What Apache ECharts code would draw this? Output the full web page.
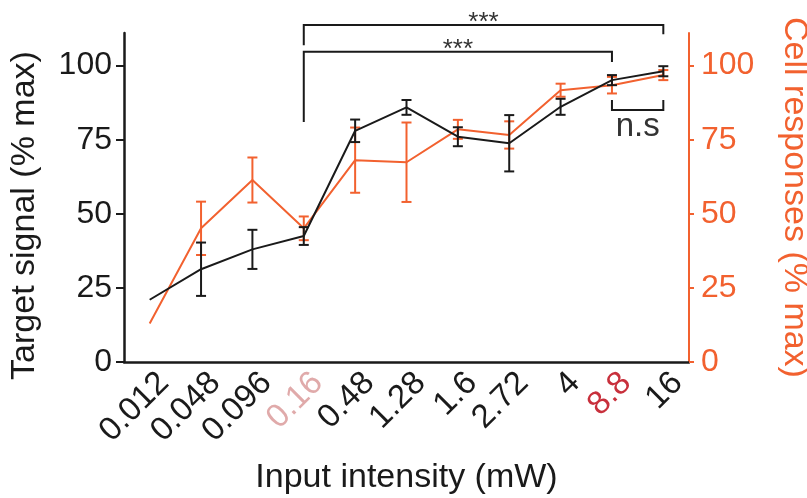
<!DOCTYPE html>
<html>
<head>
<meta charset="utf-8">
<title>Input intensity</title>
<script src="https://cdn.jsdelivr.net/npm/echarts@6/dist/echarts.min.js"></script>
<style>
  html, body { margin: 0; padding: 0; background: #fff; }
  #main { width: 807px; height: 498px; }
</style>
</head>
<body>
<div id="main"></div>
<script type="text/javascript">
// 数据
var intensities = ['0.012', '0.048', '0.096', '0.16', '0.48', '1.28', '1.6', '2.72', '4', '8.8', '16'];
var targetMean = [21, 31.3, 38, 42.5, 78, 85.9, 76, 73.8, 86.1, 95.1, 98.1];
var targetErr = [0, 9, 6.6, 3, 3.8, 2.5, 3.2, 9.5, 2.7, 1.7, 1.7];
var cellMean = [13, 45.1, 61.4, 45.1, 68.1, 67.4, 78.5, 76.6, 91.7, 93.4, 96.8];
var cellErr = [0, 9, 7.6, 4, 11, 13.4, 3.2, 4.6, 2.2, 2.8, 1.7];
var yTicks = [0, 25, 50, 75, 100];

var black = '#1a1a1a';
var orange = '#f2612f';

function errData(mean, err) {
	var out = [];
	for (var i = 0; i < mean.length; i++) {
		if (err[i] > 0) out.push([i, mean[i] - err[i], mean[i] + err[i]]);
	}
	return out;
}

// 误差线
function errRender(color) {
	return function(params, api) {
		var x = api.value(0);
		var lo = api.coord([x, api.value(1)]);
		var hi = api.coord([x, api.value(2)]);
		var w = 5;
		var style = { stroke: color, lineWidth: 2 };
		return {
			type: 'group',
			children: [
				{ type: 'line', shape: { x1: lo[0], y1: lo[1], x2: hi[0], y2: hi[1] }, style: style },
				{ type: 'line', shape: { x1: lo[0] - w, y1: lo[1], x2: lo[0] + w, y2: lo[1] }, style: style },
				{ type: 'line', shape: { x1: hi[0] - w, y1: hi[1], x2: hi[0] + w, y2: hi[1] }, style: style }
			]
		};
	};
}

var myChart = echarts.init(document.getElementById('main'));
var option = {
	animation: false,
	grid: { left: 124, right: 118, top: 33, bottom: 136, outerBoundsMode: 'none', containLabel: false },
	textStyle: { fontFamily: 'Liberation Sans, Arial, sans-serif' },
	xAxis: {
		type: 'category',
		data: intensities,
		boundaryGap: true,
		name: 'Input intensity (mW)',
		nameLocation: 'middle',
		nameGap: 99,
		nameTextStyle: { fontSize: 34, color: black },
		axisLine: { lineStyle: { color: black, width: 2.5 } },
		axisTick: { alignWithLabel: true, length: 6, lineStyle: { color: black, width: 2 } },
		axisLabel: {
			rotate: 45,
			fontSize: 33,
			margin: 30,
			padding: [0, -20, 0, 0],
			interval: 0,
			color: function(value) {
				if (value === '0.16') return '#e0aaaa';
				if (value === '8.8') return '#c8303c';
				return black;
			}
		}
	},
	yAxis: [{
		type: 'value',
		min: 0,
		max: 111,
		name: 'Target signal (% max)',
		nameLocation: 'middle',
		nameGap: 82,
		nameTextStyle: { fontSize: 34, color: black, padding: [0, 0, 0, -36] },
		splitLine: { show: false },
		axisLine: { show: true, lineStyle: { color: black, width: 2.5 } },
		axisTick: { show: true, length: 8, customValues: yTicks, lineStyle: { color: black, width: 2 } },
		axisLabel: { fontSize: 32, color: black, margin: 12, customValues: yTicks }
	}, {
		type: 'value',
		min: 0,
		max: 111,
		position: 'right',
		name: 'Cell responses (% max)',
		nameLocation: 'middle',
		nameGap: 88,
		nameRotate: -90,
		nameTextStyle: { fontSize: 34, color: orange },
		splitLine: { show: false },
		axisLine: { show: true, lineStyle: { color: orange, width: 2 } },
		axisTick: { show: true, length: 5, customValues: yTicks, lineStyle: { color: orange, width: 2 } },
		axisLabel: { fontSize: 32, color: orange, margin: 12, customValues: yTicks }
	}],
	series: [{
		name: 'Cell responses',
		type: 'line',
		yAxisIndex: 1,
		data: cellMean,
		showSymbol: false,
		symbol: 'none',
		lineStyle: { color: orange, width: 2 },
		z: 2
	}, {
		name: 'Target signal',
		type: 'line',
		yAxisIndex: 0,
		data: targetMean,
		showSymbol: false,
		symbol: 'none',
		lineStyle: { color: black, width: 2 },
		z: 3
	}, {
		type: 'custom',
		yAxisIndex: 1,
		data: errData(cellMean, cellErr),
		renderItem: errRender(orange),
		z: 2
	}, {
		type: 'custom',
		yAxisIndex: 0,
		data: errData(targetMean, targetErr),
		renderItem: errRender(black),
		z: 3
	}]
};
myChart.setOption(option);

// 显著性标记
function px(i, v) {
	return myChart.convertToPixel({ xAxisIndex: 0, yAxisIndex: 0 }, [i, v]);
}
function bracket(i1, i2, top, drop1, drop2, label, labelSize) {
	var a = px(i1, top), b = px(i2, top);
	var a2 = px(i1, drop1), b2 = px(i2, drop2);
	var pts = [[a2[0], a2[1]], [a[0], a[1]], [b[0], b[1]], [b2[0], b2[1]]];
	return [{
		type: 'polyline',
		shape: { points: pts },
		style: { stroke: black, lineWidth: 2, fill: null }
	}, {
		type: 'text',
		x: (a[0] + b[0]) / 2,
		y: a[1] + 11,
		style: { text: label, fontSize: labelSize, fill: '#333', align: 'center', verticalAlign: 'bottom', fontFamily: 'Liberation Sans, Arial, sans-serif' }
	}];
}
var g = [];
g = g.concat(bracket(3, 10, 113.7, 106.9, 110.6, '***', 26));
g = g.concat(bracket(3, 9, 104.7, 81, 101.2, '***', 26));
// n.s
var n1 = px(9, 85), n2 = px(10, 85), n1t = px(9, 88.4), n2t = px(10, 88.4);
g.push({
	type: 'polyline',
	shape: { points: [[n1t[0], n1t[1]], [n1[0], n1[1]], [n2[0], n2[1]], [n2t[0], n2t[1]]] },
	style: { stroke: black, lineWidth: 2, fill: null }
});
g.push({
	type: 'text',
	x: (n1[0] + n2[0]) / 2,
	y: n1[1],
	style: { text: 'n.s', fontSize: 33, fill: '#333', align: 'center', verticalAlign: 'top', fontFamily: 'Liberation Sans, Arial, sans-serif' }
});
myChart.setOption({ graphic: g });
</script>
</body>
</html>
